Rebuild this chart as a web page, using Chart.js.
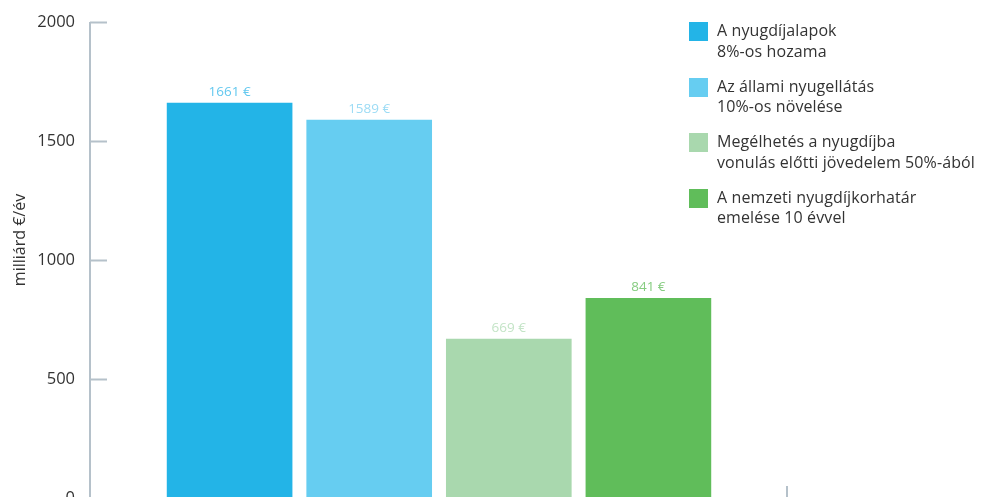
<!DOCTYPE html>
<html lang="hu">
<head>
<meta charset="utf-8">
<script src="https://cdn.jsdelivr.net/npm/chart.js@4.4.1/dist/chart.umd.min.js"></script>
<style>
    html, body { margin: 0; padding: 0; background: #fff; overflow: hidden; }
    #wrap { position: relative; width: 987px; height: 515px; }
    #legend { position: absolute; left: 689px; top: 22px; font-family: "Open Sans", sans-serif; font-size: 16px; color: #333; }
    .lg-item { display: flex; align-items: flex-start; height: 55.5px; }
    .lg-box { width: 19px; height: 19px; margin-right: 9px; flex: none; }
    .lg-text { line-height: 20.5px; margin-top: -2px; letter-spacing: 0.1px; }
</style>
</head>
<body>
<div id="wrap">
    <canvas id="chart" width="987" height="515"></canvas>
    <div id="legend"></div>
</div>
<script>
// ── Données ───────────────────────────────────────────────
const seriesLabels = [
    ['A nyugdíjalapok', '8%-os hozama'],
    ['Az állami nyugellátás', '10%-os növelése'],
    ['Megélhetés a nyugdíjba', 'vonulás előtti jövedelem 50%-ából'],
    ['A nemzeti nyugdíjkorhatár', 'emelése 10 évvel'],
];
const seriesValues = [1661, 1589, 669, 841];
const barColors    = ['#23b4e7', '#66cdf1', '#a9d8ae', '#60bd5a'];
const labelColors  = ['#63c8ef', '#9ddcf5', '#c3e4c6', '#86cc80'];
const yTicks       = [0, 500, 1000, 1500, 2000];
const yTitle       = 'milliárd €/év';

const AXIS = '#b5c1ca';

// ── Plugin : axes "vers l'intérieur" + étiquettes des barres ──
const decor = {
    id: 'decor',
    afterDatasetsDraw(chart) {
        const { ctx, chartArea: a, scales: { y } } = chart;
        ctx.save();
        ctx.strokeStyle = AXIS;
        ctx.lineWidth = 2;
        ctx.beginPath();
        ctx.moveTo(a.left, y.getPixelForValue(2000));
        ctx.lineTo(a.left, a.bottom);
        yTicks.forEach(v => {
            const py = Math.round(y.getPixelForValue(v)) + 0.5;
            ctx.moveTo(a.left, py);
            ctx.lineTo(a.left + 17, py);
        });
        ctx.moveTo(a.left, a.bottom);
        ctx.lineTo(a.right, a.bottom);
        ctx.moveTo(a.right - 1, a.bottom - 12);
        ctx.lineTo(a.right - 1, a.bottom);
        ctx.stroke();

        // valeurs au-dessus des barres
        ctx.font = '13.5px "Open Sans", sans-serif';
        ctx.textAlign = 'center';
        ctx.textBaseline = 'middle';
        chart.data.datasets.forEach((ds, i) => {
            const bar = chart.getDatasetMeta(i).data[0];
            ctx.fillStyle = labelColors[i];
            ctx.fillText(ds.data[0] + ' €', bar.x, bar.y - 11);
        });

        // titre de l'axe Y
        ctx.translate(20, 240);
        ctx.rotate(-Math.PI / 2);
        ctx.fillStyle = '#333';
        ctx.font = '16px "Open Sans", sans-serif';
        ctx.fillText(yTitle, 0, 0);
        ctx.restore();
    },
};

const chart = new Chart(document.getElementById('chart'), {
    type: 'bar',
    data: {
        labels: [''],
        datasets: seriesValues.map((v, i) => ({
            label: seriesLabels[i],
            data: [v],
            backgroundColor: barColors[i],
        })),
    },
    options: {
        responsive: false,
        animation: false,
        layout: { padding: { top: 22, right: 199, bottom: 12, left: 0 } },
        plugins: { legend: { display: false }, tooltip: { enabled: false } },
        scales: {
            x: { display: false },
            y: {
                min: 0, max: 2000,
                afterFit: s => { s.width = 90; },
                afterBuildTicks: s => { s.ticks = yTicks.map(v => ({ value: v })); },
                grid: { display: false },
                border: { display: false },
                ticks: {
                    padding: 7, color: '#333',
                    font: { family: '"Open Sans", sans-serif', size: 16.5 },
                    callback: v => String(v),
                },
            },
        },
    },
    plugins: [decor],
});

// ── Légende HTML ──────────────────────────────────────────
document.getElementById('legend').innerHTML = chart.data.datasets.map(ds => `
    <div class="lg-item">
        <div class="lg-box" style="background:${ds.backgroundColor}"></div>
        <div class="lg-text">${ds.label.join('<br>')}</div>
    </div>
`).join('');
</script>
</body>
</html>
